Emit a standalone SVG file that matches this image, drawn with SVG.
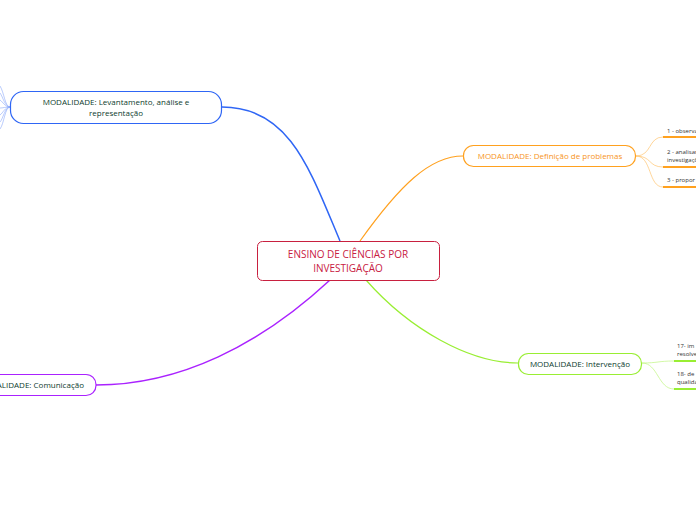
<svg xmlns="http://www.w3.org/2000/svg" width="696" height="520" viewBox="0 0 696 520">
<style>
text{font-family:"Open Sans","Liberation Sans",sans-serif}
.mod{font-size:8px;fill:#0d3b2e;text-anchor:middle}
.sub{font-size:6px;fill:#333}
.c{fill:none}
</style>
<rect width="696" height="520" fill="#fff"/>
<g id="connectors">
<path class="c" d="M340,241 C310,170 290,107 222,107" stroke="#2f66f5" stroke-width="1.5"/>
<path class="c" d="M360,241 C400,185 430,156 463,156" stroke="#ffa11f" stroke-width="1.2"/>
<path class="c" d="M366,280 C410,330 470,363 518,363" stroke="#99ee33" stroke-width="1.2"/>
<path class="c" d="M330,280 C260,345 180,385 96,385" stroke="#aa22ff" stroke-width="1.5"/>
<g stroke="#8aa8fa" stroke-width="0.6" fill="none">
<path d="M10,107 C5,107 4,92 0,86"/>
<path d="M10,107 C5,107 3,97 0,93"/>
<path d="M10,107 C5,107 3,102 0,100"/>
<path d="M10,107 C5,107 3,108 0,108"/>
<path d="M10,107 C5,107 3,113 0,115"/>
<path d="M10,107 C5,107 3,119 0,122"/>
<path d="M10,107 C5,107 4,124 0,129"/>
</g>
<g stroke="#ffc470" stroke-width="0.7" fill="none">
<path d="M636,156 C652,156 648,137 663,137"/>
<path d="M636,156 C652,156 648,167 663,167"/>
<path d="M636,156 C652,156 648,187 663,187"/>
</g>
<g stroke="#bff580" stroke-width="0.7" fill="none">
<path d="M642,363 C658,363 658,361 674,361"/>
<path d="M642,363 C658,363 658,389 674,389"/>
</g>
</g>
<g id="central">
<rect x="257.5" y="241.5" width="182" height="39" rx="5" fill="#fff" stroke="#c8203f" stroke-width="1"/>
<text x="348" y="258" font-size="10" fill="#c8203f" text-anchor="middle">ENSINO DE CIÊNCIAS POR</text>
<text x="348" y="272" font-size="10" fill="#c8203f" text-anchor="middle">INVESTIGAÇÃO</text>
</g>
<g id="levantamento">
<rect x="10.5" y="91.5" width="211" height="32" rx="13" fill="#fff" stroke="#2f66f5" stroke-width="1.2"/>
<text class="mod" x="116" y="105">MODALIDADE: Levantamento,  análise  e</text>
<text class="mod" x="116" y="116">representação</text>
</g>
<g id="definicao">
<rect x="463.5" y="145.5" width="172" height="21" rx="10" fill="#fff" stroke="#ffa11f" stroke-width="1.2"/>
<text class="mod" x="550" y="159" style="fill:#f7941d">MODALIDADE: Definição de problemas</text>
</g>
<g id="def1">
<text class="sub" x="667" y="133">1 - observa</text>
<line x1="663" y1="137" x2="696" y2="137" stroke="#ffa11f" stroke-width="2"/>
</g>
<g id="def2">
<text class="sub" x="667" y="154">2 - analisar</text>
<text class="sub" x="667" y="162">investigaçõ</text>
<line x1="663" y1="167" x2="696" y2="167" stroke="#ffa11f" stroke-width="2"/>
</g>
<g id="def3">
<text class="sub" x="667" y="182">3 - propor l</text>
<line x1="663" y1="187" x2="696" y2="187" stroke="#ffa11f" stroke-width="2"/>
</g>
<g id="intervencao">
<rect x="518.5" y="353.5" width="123" height="21" rx="10" fill="#fff" stroke="#99ee33" stroke-width="1.2"/>
<text class="mod" x="580" y="367">MODALIDADE: Intervenção</text>
</g>
<g id="int17">
<text class="sub" x="677" y="348">17- im</text>
<text class="sub" x="677" y="356">resolve</text>
<line x1="674" y1="361" x2="696" y2="361" stroke="#99ee33" stroke-width="2"/>
</g>
<g id="int18">
<text class="sub" x="677" y="376">18- de</text>
<text class="sub" x="677" y="384">qualida</text>
<line x1="674" y1="389" x2="696" y2="389" stroke="#99ee33" stroke-width="2"/>
</g>
<g id="comunicacao">
<rect x="-40" y="374.5" width="136" height="21" rx="10" fill="#fff" stroke="#aa22ff" stroke-width="1.2"/>
<text class="mod" x="84" y="388" style="text-anchor:end">MODALIDADE: Comunicação</text>
</g>
</svg>
